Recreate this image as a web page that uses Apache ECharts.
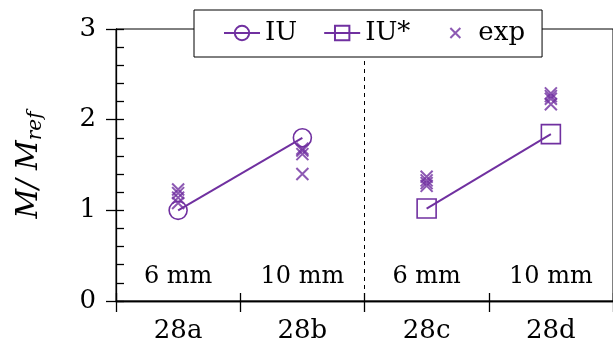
<!DOCTYPE html>
<html>
<head>
<meta charset="utf-8">
<script src="https://cdn.jsdelivr.net/npm/echarts@6/dist/echarts.min.js"></script>
<style>
  html, body { margin: 0; padding: 0; background: #fff; }
  #chart { width: 613px; height: 361px; }
</style>
</head>
<body>
<div id="chart"></div>
<script>
// Specimens and bar diameters
const categories = ['28a', '28b', '28c', '28d'];
const diameters = ['6 mm', '10 mm', '6 mm', '10 mm'];

// Normalised moment M / M_ref
const iuValues = [1.0, 1.8, null, null];
const iuStarValues = [null, null, 1.02, 1.84];
const expValues = [
  [1.23, 1.19, 1.14, 1.08],
  [1.68, 1.66, 1.62, 1.40],
  [1.37, 1.33, 1.30, 1.27],
  [2.29, 2.26, 2.23, 2.17]
];

// Value axis ticks
const yTicks = [0, 1, 2, 3];

const purple = '#7030A0';
const font = 'DejaVu Serif';
const crossPath = 'path://M0,0L10,10M10,0L0,10';
const crossLegendPath = 'path://M0,0M36,18M13,4L23,14M23,4L13,14';

const expData = [];
expValues.forEach((vals, i) => vals.forEach(v => expData.push([categories[i], v])));

const chart = echarts.init(document.getElementById('chart'), null, { renderer: 'canvas' });

chart.setOption({
  animation: false,
  backgroundColor: '#fff',
  grid: {
    left: 116, top: 29, width: 500, height: 272,
    show: true, borderColor: '#000', borderWidth: 1, backgroundColor: 'transparent'
  },
  legend: {
    left: 194, top: 10,
    padding: [10, 17, 11, 29],
    itemGap: 26,
    itemWidth: 36, itemHeight: 18,
    borderColor: '#000', borderWidth: 1, backgroundColor: '#fff',
    textStyle: { fontFamily: font, fontSize: 26, color: '#000' },
    data: [{ name: 'IU' }, { name: 'IU*' }, { name: 'exp', icon: crossLegendPath }]
  },
  xAxis: [
    {
      type: 'category', position: 'bottom', data: categories, boundaryGap: true,
      axisLine: { lineStyle: { color: '#000', width: 1.3 } },
      axisTick: { show: true, inside: false, length: 11, lineStyle: { color: '#000', width: 1.3 } },
      axisLabel: { fontFamily: font, fontSize: 26, color: '#000', margin: 17 },
      splitLine: {
        show: true,
        interval: (i) => i === 0 || i === 2,
        lineStyle: { color: '#000', type: [4, 4], width: 1 }
      }
    },
    {
      type: 'category', position: 'bottom', data: diameters, boundaryGap: true,
      axisLine: { show: true, lineStyle: { color: '#000', width: 1.3 } },
      axisTick: { show: true, inside: true, length: 8, lineStyle: { color: '#000', width: 1.3 } },
      axisLabel: { inside: true, fontFamily: font, fontSize: 24, color: '#000', margin: 12 },
      splitLine: { show: false }
    }
  ],
  yAxis: [
    {
      type: 'value', position: 'left',
      min: yTicks[0], max: yTicks[yTicks.length - 1], interval: yTicks[1] - yTicks[0],
      axisLine: { show: true, lineStyle: { color: '#000', width: 1.3 } },
      axisTick: { show: true, inside: false, length: 10, lineStyle: { color: '#000', width: 1.3 } },
      axisLabel: { fontFamily: font, fontSize: 26, color: '#000', margin: 20 },
      splitLine: { show: false },
      name: '{m|M/ M}{s|ref}',
      nameLocation: 'middle', nameRotate: 90, nameGap: 70,
      nameTextStyle: {
        rich: {
          m: { fontFamily: font, fontStyle: 'italic', fontSize: 29, color: '#000' },
          s: { fontFamily: font, fontStyle: 'italic', fontSize: 20, color: '#000', verticalAlign: 'bottom', padding: [13, 0, 0, 0] }
        }
      }
    },
    {
      type: 'value', position: 'left',
      min: yTicks[0], max: yTicks[yTicks.length - 1], interval: yTicks[1] - yTicks[0],
      axisLine: { show: false },
      axisTick: { show: true, inside: true, length: 8, lineStyle: { color: '#000', width: 1.3 } },
      minorTick: { show: true, splitNumber: 5, length: 8, lineStyle: { color: '#000', width: 1.3 } },
      axisLabel: { show: false },
      splitLine: { show: false }
    }
  ],
  series: [
    {
      name: 'IU', type: 'line', data: iuValues,
      symbol: 'circle', symbolSize: 18, connectNulls: false,
      lineStyle: { color: purple, width: 2 },
      itemStyle: { color: 'rgba(0,0,0,0)', borderColor: purple, borderWidth: 1.6 }
    },
    {
      name: 'IU*', type: 'line', data: iuStarValues,
      symbol: 'rect', symbolSize: 19, connectNulls: false,
      lineStyle: { color: purple, width: 2 },
      itemStyle: { color: 'rgba(0,0,0,0)', borderColor: purple, borderWidth: 1.6 }
    },
    {
      name: 'exp', type: 'scatter', data: expData,
      symbol: crossPath, symbolSize: 12,
      itemStyle: { color: 'rgba(0,0,0,0)', borderColor: purple, borderWidth: 2 }
    }
  ]
});
</script>
</body>
</html>
